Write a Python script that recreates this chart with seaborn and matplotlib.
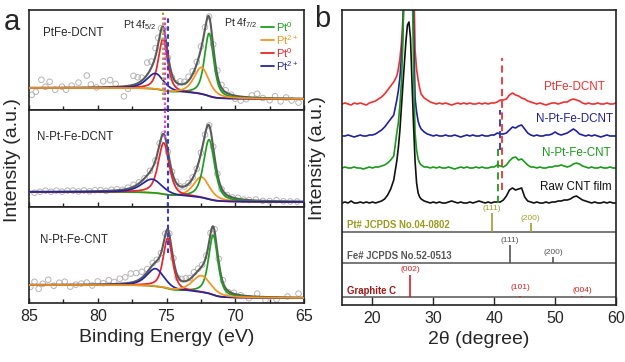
import numpy as np
import seaborn as sns
import matplotlib.pyplot as plt

# ---------------- data: (a) XPS Pt 4f ----------------
xps_samples = ['PtFe-DCNT', 'N-Pt-Fe-DCNT', 'N-Pt-Fe-CNT']
# components: Pt0 4f7/2, Pt2+ 4f7/2, Pt0 4f5/2, Pt2+ 4f5/2
comp_colors = ['#1e9e1e', '#f5951f', '#e8262b', '#26269a']
xps_centers = [[71.9, 72.45, 75.25, 75.8],
               [71.9, 72.45, 75.2, 76.05],
               [71.6, 72.45, 74.9, 75.8]]
xps_heights = [[63, 27, 52, 16],
               [60, 21, 52, 14],
               [60, 17, 51, 18]]
xps_fwhm = [[0.8, 1.3, 0.8, 1.5],
            [0.95, 1.4, 0.95, 1.8],
            [0.8, 1.6, 0.8, 1.5]]
bg_high = [22, 15, 18]
bg_low = [11, 5, 5]
draw_order = [[0, 2, 3, 1], [1, 0, 2, 3], [0, 2, 3, 1]]

# raw data points, given as offsets from the fitted envelope
x_top = [84.8, 84.5, 84.1, 83.8, 83.5, 83.1, 82.6, 82.3, 81.9, 81.4,
         80.8, 80.5, 80.1, 79.6, 79.1, 78.7, 78.1, 77.8, 77.4, 77.1,
         76.8, 76.4, 76.1, 75.8, 75.6, 75.4, 75.2, 74.9, 74.6, 74.3,
         74.0, 73.7, 73.4, 73.1, 72.8, 72.5, 72.2, 71.9, 71.6, 71.3,
         71.0, 70.7, 70.3, 70.0, 69.6, 69.2, 68.8, 68.4, 68.0, 67.5,
         67.1, 66.7, 66.3, 65.9, 65.4]
res_top = [-7, -4, 8, 1, 6, -2, 1, -2, 2, 5,
           12, 3, 0, 6, 7, 3, -10, -3, 9, 6,
           3, 12, 6, 8, 6, 2, 0, -4, -3, -1,
           3, 2, 4, 3, 2, 3, 2, 0, 2, 5,
           3, 2, 0, -3, -4, -2, 2, 4, 0, -2,
           2, -3, 1, -2, -4]
x_mid = [84.6, 84.2, 83.8, 83.4, 83.0, 82.6, 82.2, 81.8, 81.4, 81.0,
         80.6, 80.2, 79.8, 79.4, 79.0, 78.6, 78.2, 77.8, 77.4, 77.0,
         76.6, 76.2, 75.8, 75.5, 75.2, 74.9, 74.6, 74.3, 74.0, 73.7,
         73.4, 73.1, 72.8, 72.5, 72.2, 71.9, 71.6, 71.3, 71.0, 70.6,
         70.2, 69.8, 69.4, 69.0, 68.5, 68.0, 67.5, 67.0, 66.5, 66.0,
         65.5]
res_mid = [-1, 0, 1, 0, 1, 0, 1, 1, 0, 1,
           0, 1, 1, 0, 1, 1, 0, 1, 2, 1,
           0, 1, 0, 1, 0, -1, 0, 1, 0, 0,
           1, 1, 0, 1, 0, 0, 1, 0, -1, 0,
           0, 1, 0, 0, 1, 0, 0, 1, 0, 0,
           0]
x_bot = [84.9, 84.6, 84.3, 84.0, 83.6, 83.2, 82.8, 82.4, 82.0, 81.6,
         81.2, 80.8, 80.4, 80.0, 79.6, 79.2, 78.8, 78.4, 78.0, 77.6,
         77.2, 76.8, 76.4, 76.0, 75.7, 75.4, 75.1, 74.8, 74.5, 74.2,
         73.9, 73.6, 73.3, 73.0, 72.7, 72.4, 72.1, 71.8, 71.5, 71.2,
         70.9, 70.5, 70.1, 69.6, 69.0, 68.4, 67.8, 67.0, 66.2, 65.4]
res_bot = [-2, 3, -4, 1, 5, -1, 2, 3, -2, 0,
           1, 2, -1, 3, 1, 4, 2, 5, 6, 9,
           8, 6, 3, 2, 1, 0, 2, 0, 1, -2,
           2, 3, 1, 3, 2, 1, 0, 1, 2, 3,
           2, -1, 1, 0, -2, 3, -3, -2, 1, 4]
scatter_x = [x_top, x_mid, x_bot]
scatter_res = [res_top, res_mid, res_bot]

# reference lines in (a): (BE, colour, style, [(panel, ymin, ymax), ...])
ref_lines = [(75.27, '#a8a838', (0, (1.2, 1.2)), [(0, 10, 100)]),
             (75.09, '#e040e0', (0, (1.2, 1.2)), [(0, 0, 93), (1, 69, 97)]),
             (74.90, '#3a3ad8', (0, (2.2, 1.6)), [(0, 0, 93), (1, 0, 97), (2, 50, 96)])]

# ---------------- data: (b) XRD ----------------
two_theta = np.r_[np.arange(15, 23.6, 0.5), np.arange(24, 28.1, 0.25), np.arange(28.5, 60.1, 0.5)]
xrd_labels = ['PtFe-DCNT', 'N-Pt-Fe-DCNT', 'N-Pt-Fe-CNT', 'Raw CNT film']
xrd_colors = ['#f03030', '#2020a0', '#1a9a1a', '#111111']
xrd_offsets = [201, 169, 137, 102]
red_xrd = ([0, 1, 0, -1, 1, 0, 1, 0, -1, 1, 2, 3, 5, 7, 10, 14, 18, 22]
           + [28, 35, 45, 60, 85, 130, 220, 350, 420, 380, 260, 140, 54, 35, 24, 16, 10]
           + [6, 4, 2, 1, 0, 1, 0, 1, 0, -1, 0, 1, 0, 1, 0, 1, 0, 0, 1, 0, 1, 0, 1, 1,
              2, 4, 4, 5, 9, 11, 9, 8, 6, 5, 3, 2, 1, 0, 1, 0, -1, 0, 1, 1,
              0, 1, 2, 2, 4, 5, 4, 3, 1, 0, 1, 0, 0, 1, 0, 0, 1, 0, 0, 1])
blue_xrd = ([0, 0, 1, 0, -1, 0, 1, 0, 0, 1, 1, 2, 4, 6, 9, 13, 17, 21]
            + [36, 45, 58, 78, 105, 160, 260, 380, 420, 360, 220, 110, 38, 24, 15, 10, 7]
            + [4, 2, 1, 0, 1, 0, 0, 1, 0, 0, 1, 0, -1, 0, 1, 0, 1, 0, 0, 1, 0, 0, 1, 1,
               3, 2, 2, 3, 6, 9, 8, 10, 11, 7, 3, 1, 0, 1, 0, 0, 1, 1, 2, 4,
               2, 1, 2, 3, 5, 7, 5, 2, 1, 0, 1, 0, 1, 0, -1, 0, 1, 0, 0, 0])
green_xrd = ([0, 1, 0, 0, 1, 0, 0, -1, 0, 1, 0, 1, 1, 2, 3, 5, 8, 12]
             + [35, 45, 62, 85, 125, 200, 320, 420, 430, 330, 200, 100, 35, 18, 9, 5, 3]
             + [1, 1, 0, 1, 0, 1, 0, 0, 1, 0, -1, 0, 1, 0, 1, 0, 0, 1, 0, 1, 0, 0, 1, 1,
                3, 2, 1, 3, 7, 10, 11, 8, 9, 6, 3, 1, 1, 0, 1, 0, 0, 1, 1, 2,
                2, 3, 2, 1, 2, 4, 5, 4, 2, 1, 0, 1, 0, 0, 1, 0, 0, 1, 0, 0])
black_xrd = ([0, 1, 0, 2, 0, 0, 1, 0, 1, 0, 1, 0, 1, 2, 4, 8, 14, 23]
             + [42, 55, 72, 95, 118, 140, 162, 178, 181, 165, 120, 78, 42, 20, 10, 6, 4]
             + [2, 1, 0, 1, 0, 1, 0, 0, 1, 2, 1, 0, 1, 0, 0, 1, 0, 1, 2, 1, 0, 1, 0, 1,
                1, 1, 3, 7, 13, 15, 13, 14, 15, 6, 2, 1, 0, 1, 0, 0, 1, 0, 1, 1,
                2, 2, 3, 3, 4, 6, 7, 5, 3, 2, 1, 0, 1, 0, 0, 1, 0, 1, 0, 0])
xrd_series = [red_xrd, blue_xrd, green_xrd, black_xrd]
xrd_marks = [(41.26, 115, 247, '#f03030'), (40.87, 155, 195, '#3030b0'), (40.6, 102, 158, '#1a9a1a')]

# reference patterns
ref_names = ['Pt# JCPDS No.04-0802', 'Fe# JCPDS No.52-0513', 'Graphite C']
ref_base = [72.7, 41.7, 7.7]
ref_angles = [[39.6, 46.0], [42.6, 49.7], [26.2, 44.3, 54.4]]
ref_heights = [[19, 9], [18, 6], [22.3, 1.5, 1.5]]
ref_hkl = [['(111)', '(200)'], ['(111)', '(200)'], ['(002)', '(101)', '(004)']]
ref_label_gap = [[4.5, 4.5], [5, 5.3], [5.5, 8.2, 5.8]]
ref_colors = ['#a0a028', '#555555', '#d42020']
ref_name_colors = ['#9a9a20', '#555555', '#a01818']

# ---------------- style ----------------
sns.set_theme(style='ticks')
plt.rcParams['font.family'] = ['Liberation Sans', 'DejaVu Sans']
plt.rcParams['mathtext.fontset'] = 'custom'
plt.rcParams['mathtext.rm'] = 'Liberation Sans'
plt.rcParams['mathtext.it'] = 'Liberation Sans:italic'
plt.rcParams['mathtext.default'] = 'regular'
plt.rcParams['axes.linewidth'] = 1.2
plt.rcParams['axes.edgecolor'] = '#222222'

fig = plt.figure(figsize=(6.25, 3.62), dpi=100)
W, H = 625, 362


def add_px_axes(x0, y0, x1, y1):
    return fig.add_axes([x0 / W, 1 - y1 / H, (x1 - x0) / W, (y1 - y0) / H])


# ---------------- (a) ----------------
panel_px = [(10, 110), (110, 207), (207, 303)]
axes_a = [add_px_axes(29, t, 304, b) for t, b in panel_px]
be = np.linspace(65, 85, 801)


def pseudo_voigt(x, c, h, w, eta=0.6):
    g = np.exp(-4 * np.log(2) * ((x - c) / w) ** 2)
    l = 1 / (1 + 4 * ((x - c) / w) ** 2)
    return h * (eta * l + (1 - eta) * g)


for i, ax in enumerate(axes_a):
    t, b = panel_px[i]
    peaks = [pseudo_voigt(be, c, h, w) for c, h, w in
             zip(xps_centers[i], xps_heights[i], xps_fwhm[i])]
    total = np.sum(peaks, axis=0)
    cum = np.cumsum(total)
    cum = cum / cum[-1]
    bg = bg_low[i] + (bg_high[i] - bg_low[i]) * cum
    envelope = bg + total

    xs = np.array(scatter_x[i])
    ys = np.interp(xs, be, envelope) + np.array(scatter_res[i])
    sns.scatterplot(x=xs, y=ys, ax=ax, marker='o', s=16, facecolors='none',
                    edgecolors='#b4b4b4', linewidth=0.7, zorder=1)
    sns.lineplot(x=be, y=envelope, ax=ax, color='#5a5a5a', lw=1.5, zorder=2)
    for k in draw_order[i]:
        sns.lineplot(x=be, y=bg + peaks[k], ax=ax, color=comp_colors[k], lw=1.25, zorder=3)

    ax.set_xlim(85, 65)
    ax.set_ylim(0, b - t)
    ax.set_yticks([])
    ax.set_xticks([85, 80, 75, 70, 65])
    ax.set_xticks([82.5, 77.5, 72.5, 67.5], minor=True)
    ax.tick_params(axis='x', which='both', direction='in', length=3.5, width=1,
                   labelsize=11.5, pad=4, color='#222222')
    ax.tick_params(axis='x', which='minor', length=3)
    if i < 2:
        ax.tick_params(axis='x', labelbottom=False)
    ax.set_xlabel('')
    ax.set_ylabel('')

for x, col, ls, spans in ref_lines:
    for p, y0, y1 in spans:
        axes_a[p].vlines(x, y0, y1, colors=col, linestyles=[ls], lw=1.5, zorder=5)

axes_a[0].text(83.98, 77, xps_samples[0], fontsize=8.3, va='center')
axes_a[1].text(84.44, 69.5, xps_samples[1], fontsize=8.3, va='center')
axes_a[2].text(84.2, 63, xps_samples[2], fontsize=8.3, va='center')
axes_a[0].text(78.14, 85, 'Pt 4f$_{5/2}$', fontsize=7.6, va='center')
axes_a[0].text(70.84, 86.5, 'Pt 4f$_{7/2}$', fontsize=7.6, va='center')

leg_texts = ['Pt$^{0}$', 'Pt$^{2+}$', 'Pt$^{0}$', 'Pt$^{2+}$']
leg_y = [83, 70, 57, 44]
for txt, col, y in zip(leg_texts, comp_colors, leg_y):
    axes_a[0].plot([68.1, 67.2], [y, y], color=col, lw=1.3)
    axes_a[0].text(67.0, y, txt, color=col, fontsize=8, va='center')

axes_a[2].set_xlabel('Binding Energy (eV)', fontsize=14, labelpad=4)
fig.text(13 / W, 1 - 160 / H, 'Intensity (a.u.)', rotation=90, fontsize=14,
         ha='center', va='center')
fig.text(12 / W, 1 - 22 / H, 'a', fontsize=21, ha='center', va='center')

# ---------------- (b) ----------------
axb = add_px_axes(342, 10, 616, 305)
for ys, col, off in zip(xrd_series, xrd_colors, xrd_offsets):
    sns.lineplot(x=two_theta, y=np.array(ys) + off, ax=axb, color=col, lw=1.2)
for x, y0, y1, col in xrd_marks:
    axb.vlines(x, y0, y1, colors=col, linestyles=[(0, (4, 2.5))], lw=1.3, zorder=4)

label_pos = [(58.2, 217.7), (59.5, 186), (59.2, 151.7), (59.3, 118.3)]
for (x, y), txt, col in zip(label_pos, xrd_labels, xrd_colors):
    axb.text(x, y, txt, color=col, fontsize=8.4, ha='right', va='center')

name_y = [80, 49, 14.3]
for j in range(3):
    axb.axhline(ref_base[j], color='#555555', lw=1.1)
    axb.vlines(ref_angles[j], ref_base[j], np.array(ref_heights[j]) + ref_base[j],
               colors=ref_colors[j], lw=1.2)
    for a, h, hkl, g in zip(ref_angles[j], ref_heights[j], ref_hkl[j], ref_label_gap[j]):
        axb.text(a, ref_base[j] + h + g, hkl, color=ref_colors[j], fontsize=6,
                 ha='center', va='center')
    axb.text(15.85, name_y[j], ref_names[j], color=ref_name_colors[j], fontsize=6.9,
             fontweight='bold', va='center')

axb.set_xlim(15, 60)
axb.set_ylim(0, 295)
axb.set_yticks([])
axb.set_xticks([20, 30, 40, 50, 60])
axb.tick_params(axis='x', direction='in', length=6, width=1, labelsize=11.5, pad=4,
                color='#222222')
axb.set_xlabel('2θ (degree)', fontsize=14, labelpad=4)
axb.set_ylabel('')
fig.text(318 / W, 1 - 158 / H, 'Intensity (a.u.)', rotation=90, fontsize=14,
         ha='center', va='center')
fig.text(322 / W, 1 - 19 / H, 'b', fontsize=21, ha='center', va='center')

fig.savefig('out.png', dpi=100)
